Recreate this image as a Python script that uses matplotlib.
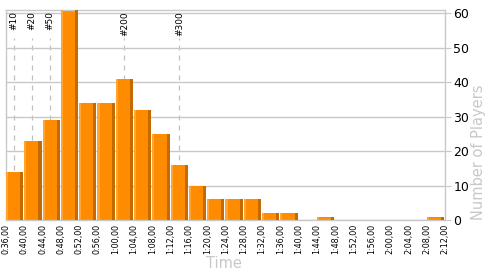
import matplotlib
matplotlib.use("Agg")
import matplotlib.pyplot as plt
import numpy as np

# bin edges in minutes (0:36 .. 2:12, 4-minute bins)
bin_start = 36
bin_width = 4
counts = [14, 23, 29, 61, 34, 34, 41, 32, 25, 16, 10, 6, 6, 6, 2, 2, 0, 1, 0, 0, 0, 0, 0, 1]
rank_labels = ["#10", "#20", "#50", "#200", "#300"]
rank_times = [37.75, 41.7, 45.6, 61.9, 73.9]  # minutes

edges = [bin_start + i * bin_width for i in range(len(counts) + 1)]
tick_labels = [f"{e // 60}:{e % 60:02d},00" for e in edges]

fig = plt.figure(figsize=(5, 2.75), dpi=100)
ax = fig.add_axes([0.012, 0.2, 0.878, 0.7636])

grid_c = "#c8c8c8"
ax.set_xlim(edges[0], edges[-1])
ax.set_ylim(0, 61)
ax.set_yticks(range(0, 61, 10))
ax.yaxis.grid(True, color=grid_c, linewidth=1)
ax.set_axisbelow(True)

# rank markers
for lab, t in zip(rank_labels, rank_times):
    ax.plot([t, t], [0, 53], color="#c0c0c0", linestyle=(0, (4, 4)), linewidth=0.9, zorder=0.5)
    ax.text(t, 60.6, lab, rotation=90, ha="center", va="top", fontsize=6.5, color="#000000", zorder=0.6)

gap = 0.22
w = bin_width - gap
lefts = np.array(edges[:-1], dtype=float)
h = np.array(counts, dtype=float)
ax.bar(lefts, h, width=w, align="edge", color="#ff8c00", linewidth=0, zorder=2)
ax.bar(lefts, h, width=w * 0.12, align="edge", color="#ffa530", linewidth=0, zorder=3)
ax.bar(lefts + w * 0.82, h, width=w * 0.18, align="edge", color="#c46a00", linewidth=0, zorder=3)

ax.set_xticks(edges)
ax.set_xticklabels(tick_labels, rotation=90, fontsize=5.8)
ax.tick_params(axis="x", length=0, pad=3)

ax.yaxis.tick_right()
ax.tick_params(axis="y", length=4, color=grid_c, labelsize=9, pad=2)
fig.text(479 / 500, 1 - 220 / 275, "Number of Players", rotation=90, ha="center", va="bottom",
         color="#c8c8c8", fontsize=10.5)
fig.text(224 / 500, 1 - 264 / 275, "Time", ha="center", va="center",
         color="#c8c8c8", fontsize=10.5)

for s in ["top", "left", "right", "bottom"]:
    ax.spines[s].set_color(grid_c)
    ax.spines[s].set_linewidth(1)

fig.savefig("out.png", dpi=100)
